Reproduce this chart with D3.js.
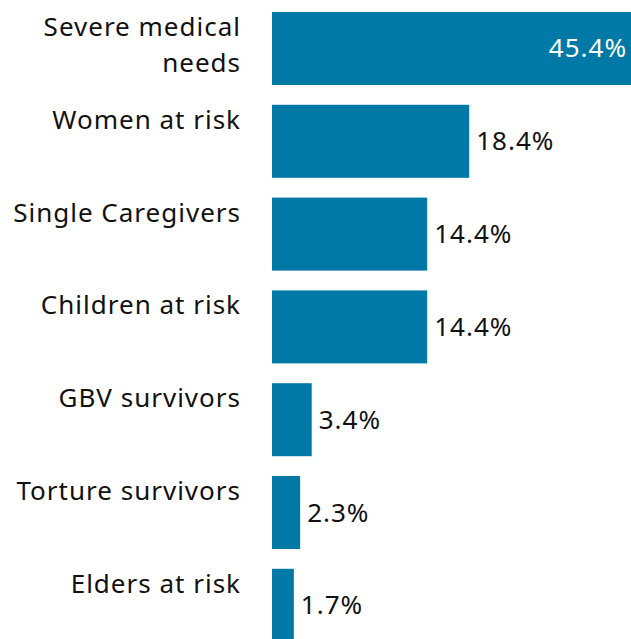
<!DOCTYPE html>
<html>
<head>
<meta charset="utf-8">
<script src="https://cdn.jsdelivr.net/npm/d3@7"></script>
<style>
  html, body { margin: 0; padding: 0; background: #fff; overflow: hidden; }
  svg { display: block; }
  text { font-family: "Noto Sans", "Open Sans", sans-serif; letter-spacing: 1px; }
</style>
</head>
<body>
<svg id="chart" width="631" height="639"></svg>
<script>
const categories = [
  ["Severe medical", "needs"],
  ["Women at risk"],
  ["Single Caregivers"],
  ["Children at risk"],
  ["GBV survivors"],
  ["Torture survivors"],
  ["Elders at risk"]
];
const values = [45.4, 18.4, 14.4, 14.4, 3.4, 2.3, 1.7];
const valueLabels = ["45.4%", "18.4%", "14.4%", "14.4%", "3.4%", "2.3%", "1.7%"];

const W = 631, H = 639;
const barLeft = 272;
const labelRight = 241;
const fontSize = 26;
const barColor = "#0079a6";

const svg = d3.select("#chart");
const keys = categories.map(c => c.join(" "));

const y = d3.scaleBand().domain(keys).range([12, 641.8]).paddingInner(0.2134).paddingOuter(0);
const x = d3.scaleLinear().domain([0, d3.max(values)]).range([4, 4 + 10.5 * 45.4]);

const data = keys.map((k, i) => ({ key: k, lines: categories[i], value: values[i], label: valueLabels[i] }));

const g = svg.append("g");

g.selectAll("rect.bar").data(data).join("rect")
  .attr("class", "bar")
  .attr("x", barLeft)
  .attr("y", d => y(d.key))
  .attr("width", d => x(d.value))
  .attr("height", y.bandwidth())
  .attr("fill", barColor);

// category labels
const cl = g.selectAll("text.cat").data(data).join("text")
  .attr("class", "cat")
  .attr("x", labelRight)
  .attr("y", d => y(d.key) + 24)
  .attr("text-anchor", "end")
  .attr("font-size", fontSize)
  .attr("fill", "#111");
cl.selectAll("tspan").data(d => d.lines).join("tspan")
  .attr("x", labelRight)
  .attr("dy", (d, i) => i === 0 ? 0 : 36)
  .text(d => d);

// value labels
g.selectAll("text.val").data(data).join("text")
  .attr("class", "val")
  .each(function(d) {
    const end = barLeft + x(d.value);
    const inside = end > W - 20;
    d3.select(this)
      .attr("x", inside ? Math.min(end, W) - 4 : end + 7)
      .attr("text-anchor", inside ? "end" : "start")
      .attr("fill", inside ? "#ffffff" : "#111");
  })
  .attr("y", d => y(d.key) + y.bandwidth() / 2 + 9)
  .attr("font-size", fontSize)
  .text(d => d.label);
</script>
</body>
</html>
